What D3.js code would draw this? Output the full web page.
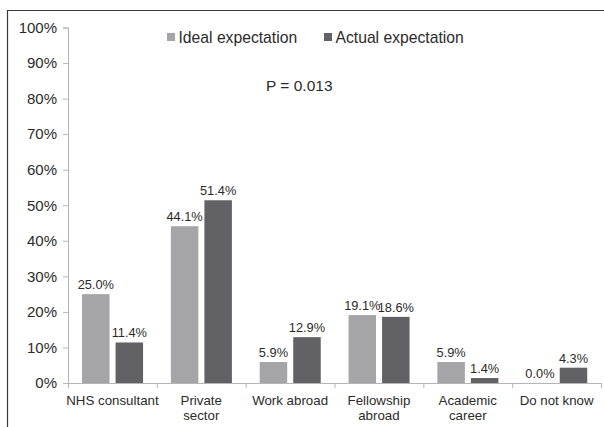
<!DOCTYPE html>
<html>
<head>
<meta charset="utf-8">
<script src="https://cdn.jsdelivr.net/npm/d3@7"></script>
<style>
  body { margin: 0; background: #fff; }
  svg { display: block; font-family: "Liberation Sans", Arial, sans-serif; }
</style>
</head>
<body>
<div id="chart"></div>
<script>
// chart data
const categories = [
  ["NHS consultant"],
  ["Private", "sector"],
  ["Work abroad"],
  ["Fellowship", "abroad"],
  ["Academic", "career"],
  ["Do not know"]
];
const seriesNames = ["Ideal expectation", "Actual expectation"];
const idealValues = [25.0, 44.1, 5.9, 19.1, 5.9, 0.0];
const actualValues = [11.4, 51.4, 12.9, 18.6, 1.4, 4.3];
const yTicks = [0, 10, 20, 30, 40, 50, 60, 70, 80, 90, 100];
const pValueText = "P = 0.013";

const width = 604, height = 427;
const margin = { top: 27.5, right: 3, bottom: 44, left: 68 };
const colors = ["#a5a5a8", "#626266"];
const textColor = "#2b2b2b";

const svg = d3.select("#chart")
  .append("svg")
  .attr("width", width)
  .attr("height", height);

// outer frame (left and top only are visible)
svg.append("path")
  .attr("d", `M7.5,${height} V10.5 H${width}`)
  .attr("fill", "none")
  .attr("stroke", "#3a3a3a")
  .attr("stroke-width", 1.2);

const keys = categories.map((c, i) => i);
const x = d3.scaleBand()
  .domain(keys)
  .range([margin.left, width - margin.right])
  .padding(0);

const inner = x.bandwidth();
const xs = d3.scaleBand()
  .domain(seriesNames)
  .range([inner * 0.158, inner * 0.845])
  .paddingInner(0.18)
  .paddingOuter(0);

const y = d3.scaleLinear()
  .domain([0, 100])
  .range([height - margin.bottom, margin.top]);

// y axis
const yAxis = svg.append("g")
  .attr("transform", `translate(${margin.left},0)`)
  .call(d3.axisLeft(y).tickValues(yTicks).tickSize(5).tickPadding(6)
    .tickFormat(d => d + "%"));
yAxis.select(".domain").attr("stroke", "#b5b5b5");
yAxis.selectAll(".tick line").attr("stroke", "#b5b5b5");
yAxis.selectAll("text")
  .attr("fill", textColor)
  .style("font-size", "15px")
  .style("font-family", "'Liberation Sans', Arial, sans-serif");

// x axis line with ticks at category boundaries
const x0 = margin.left, x1 = width - margin.right;
const yBase = y(0);
svg.append("line")
  .attr("x1", x0).attr("x2", x1)
  .attr("y1", yBase + 0.5).attr("y2", yBase + 0.5)
  .attr("stroke", "#b5b5b5");
svg.selectAll(".xtick")
  .data(keys.concat([keys.length]))
  .enter()
  .append("line")
  .attr("x1", d => x0 + d * x.step() + 0.5)
  .attr("x2", d => x0 + d * x.step() + 0.5)
  .attr("y1", yBase)
  .attr("y2", yBase + 5)
  .attr("stroke", "#b5b5b5");

// category labels
const catLabels = svg.selectAll(".cat")
  .data(categories)
  .enter()
  .append("text")
  .attr("text-anchor", "middle")
  .attr("fill", textColor)
  .style("font-size", "13.3px")
  .attr("transform", (d, i) => `translate(${x(i) + x.bandwidth() / 2},${yBase + 21.5})`);
catLabels.selectAll("tspan")
  .data(d => d)
  .enter()
  .append("tspan")
  .attr("x", 0)
  .attr("dy", (d, i) => i === 0 ? 0 : 15)
  .text(d => d);

// bars
const rows = categories.map((c, i) => [
  { key: seriesNames[0], value: idealValues[i] },
  { key: seriesNames[1], value: actualValues[i] }
]);

const groups = svg.selectAll(".group")
  .data(rows)
  .enter()
  .append("g")
  .attr("transform", (d, i) => `translate(${x(i)},0)`);

groups.selectAll("rect")
  .data(d => d)
  .enter()
  .append("rect")
  .attr("x", d => xs(d.key))
  .attr("width", xs.bandwidth())
  .attr("y", d => y(d.value))
  .attr("height", d => yBase - y(d.value))
  .attr("fill", (d, i) => colors[i]);

groups.selectAll(".lbl")
  .data(d => d)
  .enter()
  .append("text")
  .attr("x", d => xs(d.key) + xs.bandwidth() / 2)
  .attr("y", d => y(d.value) - 5)
  .attr("text-anchor", "middle")
  .attr("fill", textColor)
  .style("font-size", "12.8px")
  .text(d => d.value.toFixed(1) + "%");

// legend
const legendX = [167, 324];
const legend = svg.selectAll(".legend")
  .data(seriesNames)
  .enter()
  .append("g")
  .attr("transform", (d, i) => `translate(${legendX[i]},33)`);
legend.append("rect")
  .attr("width", 8).attr("height", 8)
  .attr("fill", (d, i) => colors[i]);
legend.append("text")
  .attr("x", 11.5)
  .attr("y", 9.5)
  .attr("fill", textColor)
  .style("font-size", "15.7px")
  .text(d => d);

// p value
svg.append("text")
  .attr("x", 266)
  .attr("y", 91)
  .attr("fill", textColor)
  .style("font-size", "15.5px")
  .text(pValueText);
</script>
</body>
</html>
